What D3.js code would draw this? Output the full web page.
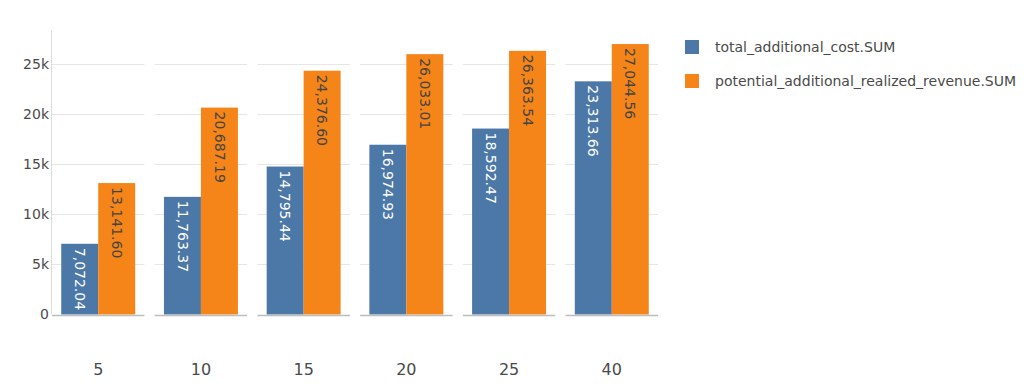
<!DOCTYPE html>
<html>
<head>
<meta charset="utf-8">
<script src="https://cdn.jsdelivr.net/npm/d3@7"></script>
<style>
  html, body { margin: 0; padding: 0; background: #fff; }
  svg { display: block; font-family: "DejaVu Sans", Verdana, sans-serif; }
</style>
</head>
<body>
<svg id="chart" width="1024" height="388"></svg>
<script>
const categories = ["5", "10", "15", "20", "25", "40"];
const seriesNames = ["total_additional_cost.SUM", "potential_additional_realized_revenue.SUM"];
const totalAdditionalCost = [7072.04, 11763.37, 14795.44, 16974.93, 18592.47, 23313.66];
const potentialRevenue = [13141.60, 20687.19, 24376.60, 26033.01, 26363.54, 27044.56];
const yTicks = [0, 5000, 10000, 15000, 20000, 25000];
const yTickLabels = ["0", "5k", "10k", "15k", "20k", "25k"];

const colors = ["#4c78a8", "#f58518"];
const labelColors = ["#ffffff", "#444444"];
const seriesValues = [totalAdditionalCost, potentialRevenue];

const svg = d3.select("#chart");

const plotLeft = 52, plotRight = 658, plotTop = 30.5, plotBottom = 314.5;
const maxVal = d3.max(seriesValues.flat());
const y = d3.scaleLinear()
  .domain([0, maxVal * 1.05])
  .range([plotBottom, plotTop]);

const xFacet = d3.scaleBand()
  .domain(categories)
  .range([plotLeft, plotRight])
  .paddingInner(0.1)
  .paddingOuter(0);

const xInner = d3.scaleBand()
  .domain(d3.range(seriesNames.length))
  .range([0, xFacet.bandwidth()])
  .paddingInner(0)
  .paddingOuter(0.25);

const fmt = d3.format(",.2f");

const facets = svg.append("g").selectAll("g.facet")
  .data(categories)
  .join("g")
  .attr("class", "facet")
  .attr("transform", d => `translate(${xFacet(d)},0)`);

facets.each(function(cat, ci) {
  const g = d3.select(this);
  g.selectAll("line.grid")
    .data(yTicks.filter(t => t !== 0))
    .join("line")
    .attr("x1", 0).attr("x2", xFacet.bandwidth())
    .attr("y1", d => Math.round(y(d)) + 0.5).attr("y2", d => Math.round(y(d)) + 0.5)
    .attr("stroke", "#e6e6e6").attr("stroke-width", 1);

  seriesNames.forEach((s, si) => {
    const v = seriesValues[si][ci];
    const bx = xInner(si);
    const bw = xInner.bandwidth();
    g.append("rect")
      .attr("x", bx).attr("width", bw)
      .attr("y", y(v)).attr("height", y(0) - y(v))
      .attr("fill", colors[si]);
    g.append("text")
      .attr("transform", `translate(${bx + bw / 2},${y(v) + 4}) rotate(90)`)
      .attr("dy", "0.35em")
      .attr("text-anchor", "start")
      .attr("font-size", 14)
      .attr("fill", labelColors[si])
      .text(fmt(v));
  });

  g.append("line")
    .attr("x1", 0).attr("x2", xFacet.bandwidth())
    .attr("y1", Math.round(y(0)) + 0.5).attr("y2", Math.round(y(0)) + 0.5)
    .attr("stroke", "#bdbdbd").attr("stroke-width", 1.5);

  g.append("text")
    .attr("x", xFacet.bandwidth() / 2)
    .attr("y", 375)
    .attr("text-anchor", "middle")
    .attr("font-size", 16)
    .attr("fill", "#4a4a4a")
    .text(cat);
});

svg.append("line")
  .attr("x1", plotLeft - 0.5).attr("x2", plotLeft - 0.5)
  .attr("y1", plotTop).attr("y2", plotBottom)
  .attr("stroke", "#dcdcdc").attr("stroke-width", 1);

svg.append("g").selectAll("text")
  .data(yTicks)
  .join("text")
  .attr("x", plotLeft - 3)
  .attr("y", d => y(d))
  .attr("dy", "0.35em")
  .attr("text-anchor", "end")
  .attr("font-size", 14)
  .attr("fill", "#4a4a4a")
  .text((d, i) => yTickLabels[i]);

const legend = svg.append("g").attr("transform", "translate(685,40)");
seriesNames.forEach((s, i) => {
  legend.append("rect")
    .attr("x", 0).attr("y", i * 34)
    .attr("width", 14).attr("height", 14)
    .attr("fill", colors[i]);
  legend.append("text")
    .attr("x", 30).attr("y", i * 34 + 7)
    .attr("dy", "0.35em")
    .attr("font-size", 14)
    .attr("fill", "#4a4a4a")
    .text(s);
});
</script>
</body>
</html>
